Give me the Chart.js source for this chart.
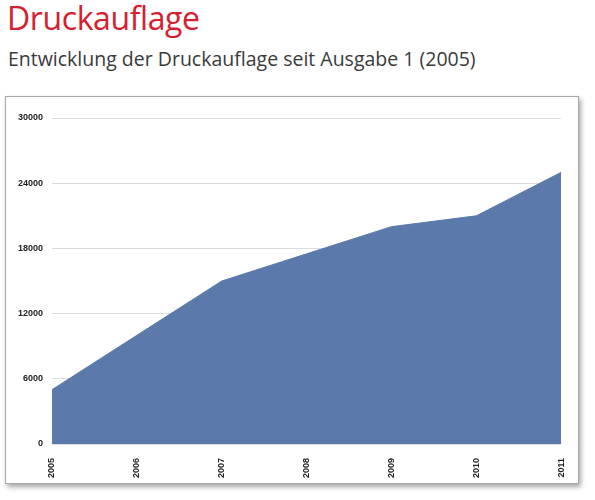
<!DOCTYPE html>
<html>
<head>
<meta charset="utf-8">
<script src="https://cdn.jsdelivr.net/npm/chart.js@4/dist/chart.umd.min.js"></script>
<style>
  body { margin: 0; background: #fff; width: 595px; height: 500px; position: relative; overflow: hidden; }
  #title { position: absolute; left: 7px; top: -4px; font: 32px "Open Sans", sans-serif; color: #d5202f; letter-spacing: -0.4px; }
  #subtitle { position: absolute; left: 8px; top: 45px; font: 19.5px "Open Sans", sans-serif; color: #3a3a3a; }
  #box { position: absolute; left: 5px; top: 96px; width: 572px; height: 386px; border: 1px solid #a8a8a8;
         box-shadow: 2px 3px 5px rgba(0,0,0,0.35); background: #fff; }
  #box canvas { display: block; }
</style>
</head>
<body>
<div id="title">Druckauflage</div>
<div id="subtitle">Entwicklung der Druckauflage seit Ausgabe 1 (2005)</div>
<div id="box"><canvas id="auflageChart" width="572" height="386"></canvas></div>
<script>
// Jahre und Auflage
const years = ["2005", "2006", "2007", "2008", "2009", "2010", "2011"];
const circulation = [5000, 10000, 15000, 17500, 20000, 21000, 25000];
const yTicks = [0, 6000, 12000, 18000, 24000, 30000];

const ctx = document.getElementById("auflageChart").getContext("2d");

const chart = new Chart(ctx, {
  type: "line",
  data: {
    labels: years,
    datasets: [
      {
        data: circulation,
        fill: "origin",
        backgroundColor: "#5b7aab",
        borderColor: "#5b7aab",
        borderWidth: 1,
        pointRadius: 0,
        tension: 0,
      },
    ],
  },
  options: {
    responsive: false,
    animation: false,
    layout: { autoPadding: false, padding: { left: 6, right: 14, top: 21, bottom: 0 } },
    plugins: { legend: { display: false }, tooltip: { enabled: false } },
    scales: {
      x: {
        offset: false,
        grid: { display: false },
        border: { display: false },
        ticks: {
          minRotation: 90,
          maxRotation: 90,
          padding: 6,
          color: "#222",
          font: { family: "Liberation Sans", size: 9, weight: "bold" },
        },
        afterFit: (scale) => { scale.height = 39; },
      },
      y: {
        min: 0,
        max: 30000,
        afterBuildTicks: (scale) => { scale.ticks = yTicks.map((v) => ({ value: v })); },
        grid: { color: "#dcdcdc", drawTicks: false },
        border: { display: false },
        ticks: {
          padding: 9,
          color: "#222",
          font: { family: "Liberation Sans", size: 9, weight: "bold" },
          callback: (value) => String(value),
        },
        afterFit: (scale) => { scale.width = 40; },
      },
    },
  },
});
</script>
</body>
</html>
